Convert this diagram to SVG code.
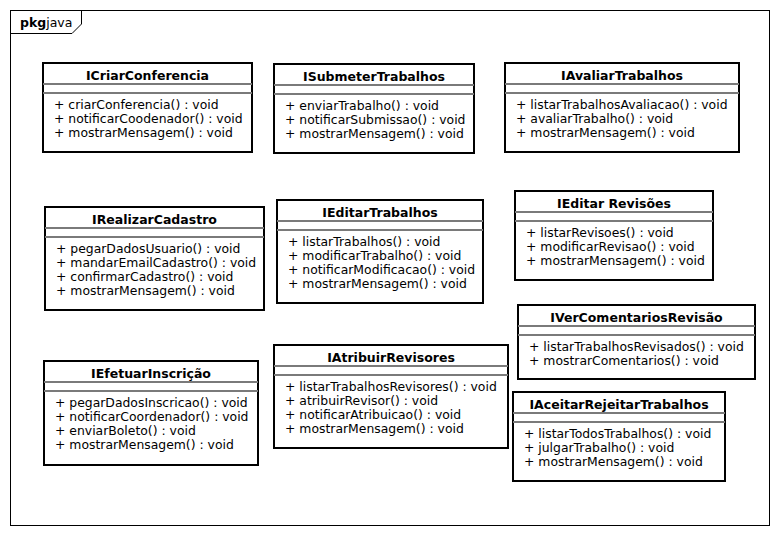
<svg xmlns="http://www.w3.org/2000/svg" width="780" height="536" viewBox="0 0 780 536">
<style>
.box{fill:#fff;stroke:#000;stroke-width:2}
.sep{stroke:#7a7a7a;stroke-width:2}
.t{font-family:"DejaVu Sans",Verdana,sans-serif;font-size:12.5px;font-weight:bold;text-anchor:middle;fill:#000}
.m{font-family:"DejaVu Sans",Verdana,sans-serif;font-size:12.4px;fill:#000}
.pk{font-family:"DejaVu Sans",Verdana,sans-serif;font-size:12.5px;fill:#000}
</style>
<rect width="780" height="536" fill="#fff"/>
<g id="package">
<rect x="10.5" y="10.5" width="759" height="515" fill="none" stroke="#000" stroke-width="1"/>
<path d="M10.5 33.5 H72 L81.5 24 V10.5" fill="none" stroke="#000" stroke-width="1"/>
<text x="20" y="27" class="pk"><tspan font-weight="bold">pkg</tspan>java</text>
</g>
<g id="connectors"></g>
<g id="ICriarConferencia" transform="translate(43,63)">
<rect class="box" width="209" height="89"/>
<line class="sep" x1="0" y1="21" x2="209" y2="21"/><line class="sep" x1="0" y1="30" x2="209" y2="30"/>
<text class="t" x="104.5" y="17">ICriarConferencia</text>
<text class="m" x="11" y="46">+ criarConferencia() : void</text>
<text class="m" x="11" y="60">+ notificarCoodenador() : void</text>
<text class="m" x="11" y="74">+ mostrarMensagem() : void</text>
</g>
<g id="ISubmeterTrabalhos" transform="translate(274,64)">
<rect class="box" width="200" height="89"/>
<line class="sep" x1="0" y1="21" x2="200" y2="21"/><line class="sep" x1="0" y1="30" x2="200" y2="30"/>
<text class="t" x="100" y="17">ISubmeterTrabalhos</text>
<text class="m" x="11" y="46">+ enviarTrabalho() : void</text>
<text class="m" x="11" y="60">+ notificarSubmissao() : void</text>
<text class="m" x="11" y="74">+ mostrarMensagem() : void</text>
</g>
<g id="IAvaliarTrabalhos" transform="translate(505,63)">
<rect class="box" width="234" height="89"/>
<line class="sep" x1="0" y1="21" x2="234" y2="21"/><line class="sep" x1="0" y1="30" x2="234" y2="30"/>
<text class="t" x="117" y="17">IAvaliarTrabalhos</text>
<text class="m" x="11" y="46">+ listarTrabalhosAvaliacao() : void</text>
<text class="m" x="11" y="60">+ avaliarTrabalho() : void</text>
<text class="m" x="11" y="74">+ mostrarMensagem() : void</text>
</g>
<g id="IRealizarCadastro" transform="translate(45,207)">
<rect class="box" width="219" height="103"/>
<line class="sep" x1="0" y1="21" x2="219" y2="21"/><line class="sep" x1="0" y1="30" x2="219" y2="30"/>
<text class="t" x="109.5" y="17">IRealizarCadastro</text>
<text class="m" x="11" y="46">+ pegarDadosUsuario() : void</text>
<text class="m" x="11" y="60">+ mandarEmailCadastro() : void</text>
<text class="m" x="11" y="74">+ confirmarCadastro() : void</text>
<text class="m" x="11" y="88">+ mostrarMensagem() : void</text>
</g>
<g id="IEditarTrabalhos" transform="translate(277,200)">
<rect class="box" width="206" height="103"/>
<line class="sep" x1="0" y1="21" x2="206" y2="21"/><line class="sep" x1="0" y1="30" x2="206" y2="30"/>
<text class="t" x="103" y="17">IEditarTrabalhos</text>
<text class="m" x="11" y="46">+ listarTrabalhos() : void</text>
<text class="m" x="11" y="60">+ modificarTrabalho() : void</text>
<text class="m" x="11" y="74">+ notificarModificacao() : void</text>
<text class="m" x="11" y="88">+ mostrarMensagem() : void</text>
</g>
<g id="IEditarRevisoes" transform="translate(515,191)">
<rect class="box" width="198" height="89"/>
<line class="sep" x1="0" y1="21" x2="198" y2="21"/><line class="sep" x1="0" y1="30" x2="198" y2="30"/>
<text class="t" x="99" y="17">IEditar Revisões</text>
<text class="m" x="11" y="46">+ listarRevisoes() : void</text>
<text class="m" x="11" y="60">+ modificarRevisao() : void</text>
<text class="m" x="11" y="74">+ mostrarMensagem() : void</text>
</g>
<g id="IVerComentariosRevisao" transform="translate(518,305)">
<rect class="box" width="237" height="74"/>
<line class="sep" x1="0" y1="21" x2="237" y2="21"/><line class="sep" x1="0" y1="30" x2="237" y2="30"/>
<text class="t" x="118.5" y="17">IVerComentariosRevisão</text>
<text class="m" x="11" y="46">+ listarTrabalhosRevisados() : void</text>
<text class="m" x="11" y="60">+ mostrarComentarios() : void</text>
</g>
<g id="IEfetuarInscricao" transform="translate(44,361)">
<rect class="box" width="214" height="104"/>
<line class="sep" x1="0" y1="21" x2="214" y2="21"/><line class="sep" x1="0" y1="30" x2="214" y2="30"/>
<text class="t" x="107" y="17">IEfetuarInscrição</text>
<text class="m" x="11" y="46">+ pegarDadosInscricao() : void</text>
<text class="m" x="11" y="60">+ notificarCoordenador() : void</text>
<text class="m" x="11" y="74">+ enviarBoleto() : void</text>
<text class="m" x="11" y="88">+ mostrarMensagem() : void</text>
</g>
<g id="IAtribuirRevisores" transform="translate(274,345)">
<rect class="box" width="234" height="103"/>
<line class="sep" x1="0" y1="21" x2="234" y2="21"/><line class="sep" x1="0" y1="30" x2="234" y2="30"/>
<text class="t" x="117" y="17">IAtribuirRevisores</text>
<text class="m" x="11" y="46">+ listarTrabalhosRevisores() : void</text>
<text class="m" x="11" y="60">+ atribuirRevisor() : void</text>
<text class="m" x="11" y="74">+ notificarAtribuicao() : void</text>
<text class="m" x="11" y="88">+ mostrarMensagem() : void</text>
</g>
<g id="IAceitarRejeitarTrabalhos" transform="translate(513,392)">
<rect class="box" width="212" height="89"/>
<line class="sep" x1="0" y1="21" x2="212" y2="21"/><line class="sep" x1="0" y1="30" x2="212" y2="30"/>
<text class="t" x="106" y="17">IAceitarRejeitarTrabalhos</text>
<text class="m" x="11" y="46">+ listarTodosTrabalhos() : void</text>
<text class="m" x="11" y="60">+ julgarTrabalho() : void</text>
<text class="m" x="11" y="74">+ mostrarMensagem() : void</text>
</g>
</svg>
